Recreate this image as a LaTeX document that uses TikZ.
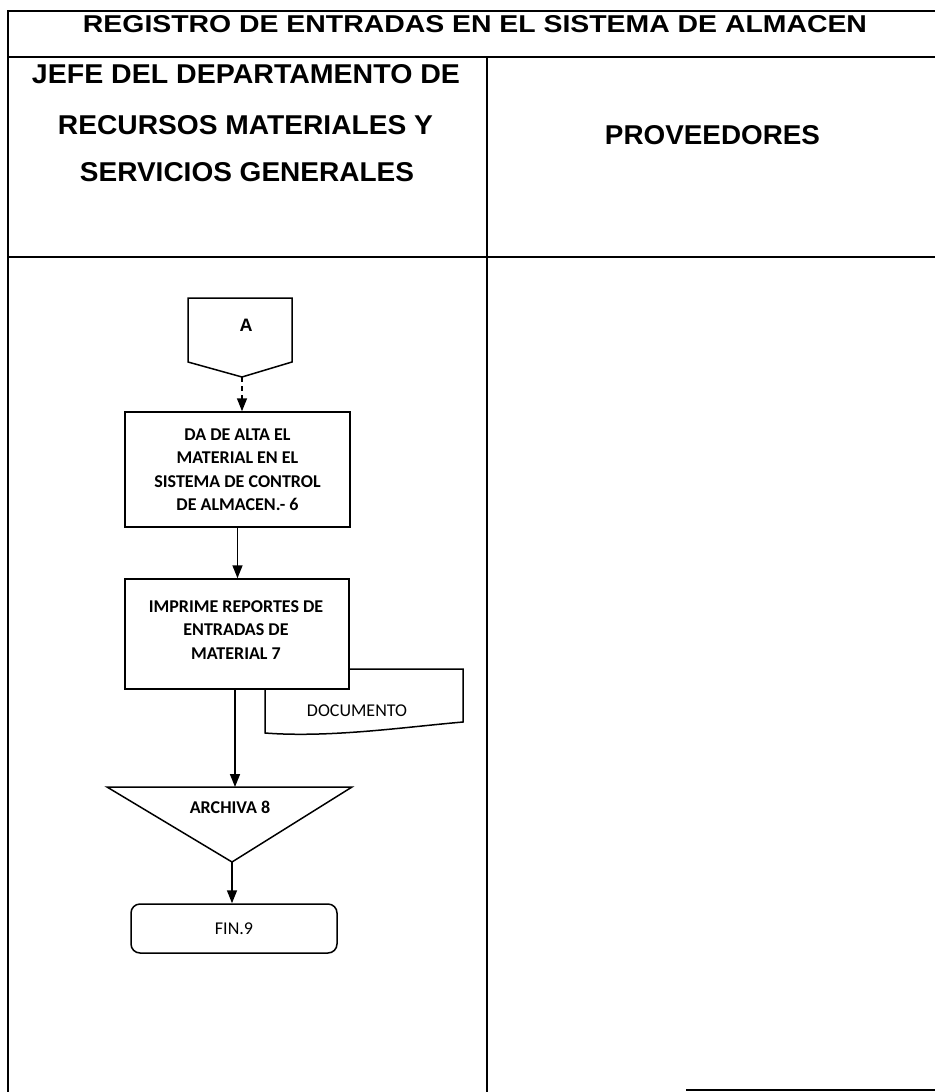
\documentclass[tikz,border=0pt]{standalone}
\usepackage{fontspec}
\usepackage{graphicx}
\newfontfamily\hdrfont{Liberation Sans}
\newfontfamily\boxfnt{Carlito}
\usetikzlibrary{arrows.meta}
\tikzset{
  frame/.style={line width=1.6pt},
  shapeline/.style={line width=1.5pt},
  procbox/.style={draw, line width=1.5pt, fill=white, inner sep=0pt, align=center,
    font=\boxfnt\bfseries\fontsize{18}{23.5}\selectfont},
  plaintext/.style={inner sep=0pt, align=center, font=\boxfnt\fontsize{18}{23.5}\selectfont},
  boldtext/.style={inner sep=0pt, align=center, font=\boxfnt\bfseries\fontsize{18}{23.5}\selectfont},
  hdr/.style={inner sep=0pt, font=\hdrfont\bfseries},
  arr/.style={line width=1.5pt, -{Triangle[width=10pt,length=13pt]}},
}
\begin{document}
\begin{tikzpicture}[x=1pt,y=-1pt]
\useasboundingbox (0,0) rectangle (935,1092);
% frame
\draw[frame] (7,11) -- (935,11);
\draw[frame] (8,11) -- (8,1092);
\draw[frame] (8,57) -- (935,57);
\draw[frame] (8,257) -- (935,257);
\draw[frame] (487,57) -- (487,1092);
\draw[frame] (686,1090) -- (935,1090);
% headers
\node[hdr] (title) at (475,24) {\resizebox{784pt}{17pt}{REGISTRO DE ENTRADAS EN EL SISTEMA DE ALMACEN}};
\node[hdr] (h1) at (246,74.5) {\resizebox{428pt}{19pt}{JEFE DEL DEPARTAMENTO DE}};
\node[hdr] (h2) at (245.5,125.5) {\resizebox{375pt}{19pt}{RECURSOS MATERIALES Y}};
\node[hdr] (h3) at (247,172.5) {\resizebox{334pt}{19pt}{SERVICIOS GENERALES}};
\node[hdr] (h4) at (712.5,135.5) {\resizebox{215pt}{19pt}{PROVEEDORES}};
% off-page connector A
\coordinate (cNW) at (188,298);
\coordinate (cNE) at (292,298);
\coordinate (cSE) at (292,362);
\coordinate (cSW) at (188,362);
\coordinate (ctip) at (242,377);
\draw[shapeline] (cNW) -- (cNE) -- (cSE) -- (ctip) -- (cSW) -- cycle;
\node[inner sep=0pt, font=\hdrfont\bfseries\fontsize{18}{20}\selectfont] (Alab) at (246,325) {A};
% process boxes
\node[procbox, minimum width=225pt, minimum height=115pt] (b1) at (237.5,469.5)
  {DA DE ALTA EL\\MATERIAL EN EL\\SISTEMA DE CONTROL\\DE ALMACEN.- 6};
% document
\coordinate (dNW) at (265,669);
\coordinate (dNE) at (463,669);
\coordinate (dSE) at (463,722);
\coordinate (dSW) at (265,733);
\draw[shapeline, fill=white] (dNW) -- (dNE) -- (dSE) .. controls (405,727) and (330,738) .. (dSW) -- cycle;
\node[plaintext] (doc) at (357,711) {DOCUMENTO};
\node[procbox, minimum width=224pt, minimum height=110pt] (b2) at (237,634) {};
\node[boldtext] (b2t) at (236,630) {IMPRIME REPORTES DE\\ENTRADAS DE\\MATERIAL 7};
% archive triangle
\coordinate (tL) at (107,787);
\coordinate (tR) at (352,787);
\coordinate (tB) at (232,862);
\draw[shapeline] (tL) -- (tR) -- (tB) -- cycle;
\node[boldtext] (arch) at (230,807.5) {ARCHIVA 8};
% end
\node[draw, line width=1.5pt, rounded corners=9pt, minimum width=206pt, minimum height=49pt,
  plaintext] (fin) at (234,928.5) {FIN.9};
% arrows
\draw[arr, dashed, dash pattern=on 5pt off 4pt] (ctip) -- (ctip |- b1.north);
\draw[arr] (b1.south) -- (b1.south |- b2.north);
\draw[arr] ([xshift=-2pt]b2.south) -- ([xshift=-2pt]b2.south |- tL);
\draw[arr] (tB) -- (tB |- fin.north);
\end{tikzpicture}
\end{document}
